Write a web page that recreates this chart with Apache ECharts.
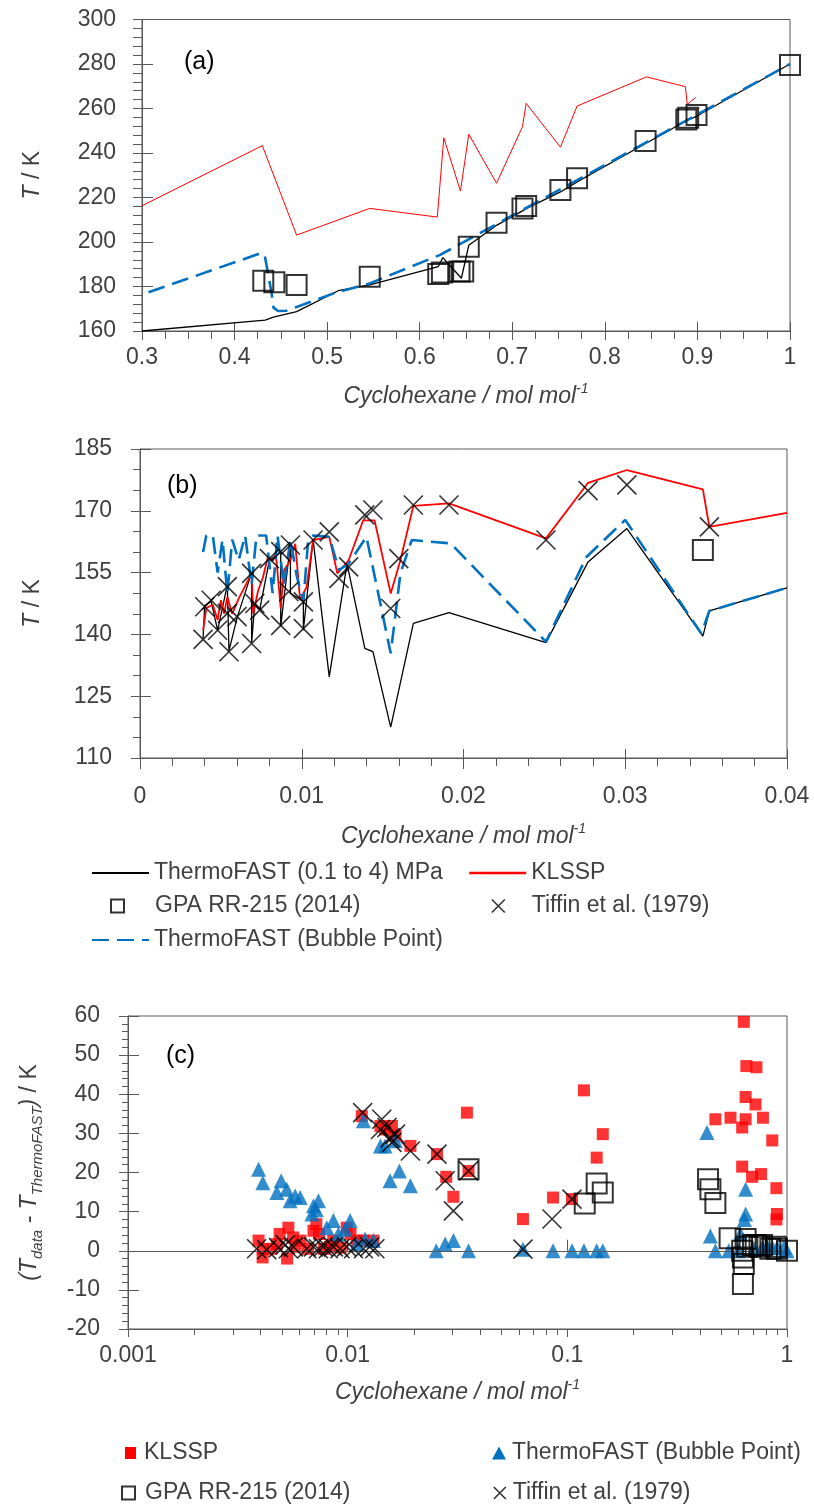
<!DOCTYPE html>
<html>
<head>
<meta charset="utf-8">
<script src="https://cdn.jsdelivr.net/npm/echarts@6/dist/echarts.min.js"></script>
<style>
  html, body { margin: 0; padding: 0; background: #fff; }
  #main { width: 814px; height: 1510px; }
</style>
</head>
<body>
<div id="main"></div>
<script>
const FONT = '"Liberation Sans", Arial, sans-serif';
const FS = 23;
const TXT = '#404040';
const AX = '#595959';
const RED = '#ff0000';
const BLUE = '#0070c0';
const CROSS = 'path://M0,0L10,10M10,0L0,10';

// ---------- panel (a) : T vs x, 0.3 - 1
const aThermo = [[0.3,160],[0.433,164.9],[0.442,166.2],[0.467,168.7],[0.512,178.1],[0.546,180.7],[0.62,188.9],
  [0.625,193],[0.645,183.7],[0.653,198.5],[0.683,207.5],[0.711,214],[0.715,215],[0.752,222.5],[0.77,227],
  [0.845,244.5],[0.888,254.5],[0.899,256.5],[1.0,280]];
const aKlssp = [[0.3,216.3],[0.430,243.3],[0.467,203.1],[0.546,215.1],[0.619,211.2],[0.626,246.8],[0.644,222.9],
  [0.653,248.4],[0.683,226.4],[0.711,251.8],[0.715,262.3],[0.752,242.6],[0.770,261.1],[0.845,274.2],
  [0.887,269.8],[0.889,261.9],[0.898,264.9]];
const aBubble = [[0.307,177.4],[0.430,195.2],[0.433,193],[0.440,177],[0.442,170.5],[0.447,169],[0.456,169.1],
  [0.507,176.9],[0.546,181.4],[0.622,194.2],[1.0,280]];
const aGpa = [[0.431,182.6],[0.443,181.9],[0.467,180.7],[0.546,184.4],[0.620,185.6],[0.624,186.3],[0.643,186.7],
  [0.647,186.7],[0.653,197.9],[0.683,208.7],[0.711,215.1],[0.715,216.2],[0.752,223.4],[0.770,228.6],
  [0.844,245.4],[0.888,255.1],[0.890,255.8],[0.899,257.1],[1.0,279.6]];

// ---------- panel (b) : T vs x, 0 - 0.04
const bThermo = [[0.0039,139],[0.0040,147],[0.0044,148],[0.0048,141],[0.0054,152],[0.0055,136],[0.0060,144],
  [0.0069,155],[0.0069,138],[0.0071,147.5],[0.0074,146],[0.0080,158],[0.0087,160],[0.0087,142],[0.0093,162],
  [0.0093,150],[0.0101,148],[0.0101,141],[0.0107,163],[0.0117,129.7],[0.0128,157.2],[0.0139,136.6],
  [0.0144,135.8],[0.0155,117.5],[0.0169,142.7],[0.0191,145.3],[0.0251,138],[0.0277,157.6],[0.0301,165.7],
  [0.0348,139.6],[0.0352,145.7],[0.04,151.3]];
const bKlssp = [[0.0039,141],[0.0041,146.4],[0.0045,147.2],[0.0048,143.5],[0.0050,148.3],[0.0052,145],
  [0.0054,149.1],[0.0057,145],[0.0061,148.7],[0.0069,154.8],[0.0070,145],[0.0073,150.6],[0.0076,153.8],
  [0.0079,158.7],[0.0082,157.9],[0.0084,159.5],[0.0087,146.3],[0.0089,155.6],[0.0093,158],[0.0096,162],
  [0.0099,148.3],[0.0103,151.5],[0.0107,162.9],[0.0117,163.7],[0.0122,154.8],[0.0129,158],[0.0138,167.7],
  [0.0145,167.7],[0.0155,149.9],[0.0161,158],[0.0169,171.2],[0.0191,171.8],[0.0251,163.3],[0.0277,176.8],
  [0.0301,179.9],[0.0348,175.2],[0.0352,166.1],[0.04,169.5]];
const bBubble = [[0.0039,160],[0.0041,164],[0.0045,164],[0.0048,155],[0.0051,163],[0.0054,150],[0.0057,163],
  [0.0061,158],[0.0065,164],[0.0069,152],[0.0072,164],[0.0078,164],[0.0082,150],[0.0085,164],[0.0089,152],
  [0.0093,163],[0.0097,154],[0.0101,148],[0.0104,163],[0.0107,164],[0.0117,163.7],[0.0123,155.6],
  [0.0129,157.2],[0.014,163.7],[0.0155,135.4],[0.0161,154.8],[0.0168,162.9],[0.0192,162.1],[0.0251,138.2],
  [0.0276,158.8],[0.03,167.8],[0.0347,140.2],[0.0352,145.7],[0.04,151.3]];
const bGpa = [[0.0348,160.5]];
const bTiffin = [[0.0039,138.8],[0.0040,146.7],[0.0044,148.3],[0.0048,141.0],[0.0054,151.6],[0.0055,135.8],
  [0.0054,145.1],[0.0060,144.3],[0.0069,154.8],[0.0069,137.8],[0.0071,147.5],[0.0074,145.9],[0.0080,158.4],
  [0.0087,160.1],[0.0087,142.2],[0.0093,161.7],[0.0092,150.4],[0.0101,147.9],[0.0101,141.4],[0.0107,162.9],
  [0.0117,164.9],[0.0123,153.6],[0.0129,156.4],[0.0139,169.0],[0.0144,170.2],[0.0155,146.3],[0.0160,158.4],
  [0.0169,171.4],[0.0191,171.4],[0.0251,162.9],[0.0277,174.9],[0.0301,176.3],[0.0352,166.1]];

// ---------- panel (c) : deviation vs x (log)
const cKlssp = [[0.00393,2.6],[0.00411,0.4],[0.0041,-1.7],[0.0045,0.5],[0.00476,1.7],[0.0049,4.3],[0.00537,5.9],
  [0.0053,-2],[0.00565,3.4],[0.0058,1],[0.0061,2.6],[0.0066,0.5],[0.00699,5.1],[0.0072,6.8],[0.0074,4.3],
  [0.0078,0.5],[0.0083,1],[0.0086,2.6],[0.0093,0.8],[0.0099,5.9],[0.0103,4.3],[0.011,2.6],[0.0118,2.6],
  [0.0131,2.6],[0.0116,34.4],[0.0141,31.9],[0.0148,31],[0.0159,31.9],[0.0165,29.4],[0.0193,26.8],
  [0.0255,24.7],[0.0281,18.9],[0.0303,13.8],[0.0349,35.3],[0.0355,20.4],[0.0628,8.1],[0.0861,13.6],
  [0.105,13.2],[0.119,41],[0.136,23.8],[0.145,29.8],[0.472,33.6],[0.553,34],[0.636,58.5],[0.653,47.2],
  [0.726,46.9],[0.648,39.3],[0.719,37.4],[0.648,33.6],[0.625,31.5],[0.777,34],[0.857,28.2],[0.625,21.5],
  [0.694,18.9],[0.762,19.6],[0.895,16],[0.9,9.4],[0.895,8]];
const cBubble = [[0.00393,20.8],[0.00411,17.4],[0.00476,14.9],[0.00498,17.9],[0.00528,15.7],[0.00547,12.8],
  [0.00577,14.0],[0.00608,13.6],[0.00687,9.4],[0.00699,11.5],[0.00736,12.8],[0.0072,10.5],[0.00803,5.9],
  [0.00861,7.7],[0.00907,4.3],[0.00975,5.5],[0.01026,7.7],[0.011,1.7],[0.012,3.0],[0.0131,2.6],[0.0118,33.2],
  [0.0141,26.8],[0.0148,26.8],[0.0165,28.1],[0.0156,17.9],[0.0172,20.4],[0.0193,16.6],[0.0253,0],
  [0.0278,1.7],[0.0303,2.6],[0.0355,0],[0.0628,0.4],[0.0861,0],[0.105,0],[0.119,0],[0.136,0],[0.145,0],
  [0.432,30.2],[0.448,3.8],[0.472,0],[0.543,0],[0.648,15.7],[0.648,9.4],[0.64,8],[0.614,4.3],[0.6,0],
  [0.706,0.5],[0.771,0.8],[0.813,0.8],[0.857,0.8],[0.902,0.8],[0.967,0.8],[1.0,0]];
const cGpa = [[0.0355,20.8],[0.120,12.1],[0.136,17.2],[0.145,14.9],[0.437,18.3],[0.448,15.7],[0.472,12.2],
  [0.548,3.2],[0.625,0],[0.63,-1.7],[0.636,-3.4],[0.63,-8.5],[0.648,3],[0.66,1],[0.70,1.5],[0.72,1.5],
  [0.75,1],[0.77,1.5],[0.84,0.5],[0.89,1],[0.9,0.5],[1.0,0]];
const cTiffin = [[0.00385,0.5],[0.00428,0.3],[0.00484,0.8],[0.0052,1.5],[0.00537,0.5],[0.00566,1],[0.00652,0.5],
  [0.00699,1],[0.00736,0.5],[0.00774,1],[0.00816,0.5],[0.0086,1],[0.00923,0.5],[0.0099,1],[0.01063,0.5],
  [0.0118,0.5],[0.0126,1],[0.0133,0.5],[0.0117,35.3],[0.0143,33.6],[0.0141,31],[0.0151,31.5],[0.0156,28.9],
  [0.0159,27.7],[0.0165,29.8],[0.0193,25.5],[0.0255,24.7],[0.0278,17.9],[0.0303,10.2],[0.0355,20.4],
  [0.0628,0.4],[0.0852,8.1],[0.105,13.2]];
const cLogMinor = [0.002,0.003,0.004,0.005,0.006,0.007,0.008,0.009,0.02,0.03,0.04,0.05,0.06,0.07,0.08,0.09,
  0.2,0.3,0.4,0.5,0.6,0.7,0.8,0.9];

const N_THERMO = 'ThermoFAST (0.1 to 4) MPa';
const N_KLSSP = 'KLSSP';
const N_GPA = 'GPA RR-215 (2014)';
const N_TIFFIN = 'Tiffin et al. (1979)';
const N_BUBBLE = 'ThermoFAST (Bubble Point)';

const chart = echarts.init(document.getElementById('main'), null, { renderer: 'canvas' });

const xName = {
  fontFamily: FONT, color: TXT,
  rich: {
    t: { fontFamily: FONT, fontSize: FS, fontStyle: 'italic', color: TXT, lineHeight: 30, verticalAlign: 'middle' },
    s: { fontFamily: FONT, fontSize: 14, fontStyle: 'italic', color: TXT, lineHeight: 18, verticalAlign: 'top' }
  }
};
const xNameText = '{t|Cyclohexane / mol mol}{s|-1}';

function axisPair(gi, scale, o) {
  const main = Object.assign({ gridIndex: gi, splitLine: { show: false } }, scale, {
    axisLine: { show: true, onZero: false, lineStyle: { color: AX, width: 1 } },
    axisTick: { show: true, inside: false, length: o.out, lineStyle: { color: AX } },
    minorTick: o.minor ? { show: true, splitNumber: o.minor, length: o.minorLen, lineStyle: { color: AX } } : { show: false },
    axisLabel: { show: true, color: TXT, fontFamily: FONT, fontSize: FS, margin: o.margin },
    name: o.name, nameLocation: 'middle', nameGap: o.nameGap, nameTextStyle: o.nameStyle
  });
  const twin = Object.assign({ gridIndex: gi, splitLine: { show: false } }, scale, {
    axisLine: { show: false }, axisLabel: { show: false }, minorTick: { show: false },
    axisTick: { show: true, inside: true, length: o.inLen, lineStyle: { color: AX } }
  });
  return [main, twin];
}

const xAxes = [].concat(
  axisPair(0, { type: 'value', min: 0.3, max: 1, interval: 0.1, position: 'bottom' },
    { out: 9, inLen: 9, minor: 4, minorLen: 8, margin: 15, name: xNameText, nameGap: 51, nameStyle: xName }),
  axisPair(1, { type: 'value', min: 0, max: 0.04, interval: 0.01, position: 'bottom' },
    { out: 11, inLen: 9, minor: 5, minorLen: 8, margin: 27, name: xNameText, nameGap: 64, nameStyle: xName }),
  axisPair(2, { type: 'log', logBase: 10, min: 0.001, max: 1, position: 'bottom' },
    { out: 8, inLen: 11, minor: 0, margin: 15, name: xNameText, nameGap: 49, nameStyle: xName })
);

const tName = {
  fontFamily: FONT, color: TXT,
  rich: {
    i: { fontFamily: FONT, fontSize: FS, fontStyle: 'italic', color: TXT, lineHeight: 30 },
    r: { fontFamily: FONT, fontSize: FS, color: TXT, lineHeight: 30 }
  }
};
const cName = {
  fontFamily: FONT, color: TXT,
  rich: {
    i: { fontFamily: FONT, fontSize: FS, fontStyle: 'italic', color: TXT, lineHeight: 30, verticalAlign: 'middle' },
    r: { fontFamily: FONT, fontSize: FS, color: TXT, lineHeight: 30, verticalAlign: 'middle' },
    s: { fontFamily: FONT, fontSize: 15, fontStyle: 'italic', color: TXT, lineHeight: 15, verticalAlign: 'bottom' }
  }
};

const yAxes = [].concat(
  axisPair(0, { type: 'value', min: 160, max: 300, interval: 20, position: 'left' },
    { out: 9, inLen: 11, minor: 5, minorLen: 9, margin: 26, name: '{i|T}{r| / K}', nameGap: 94, nameStyle: tName }),
  axisPair(1, { type: 'value', min: 110, max: 185, interval: 15, position: 'left' },
    { out: 9, inLen: 11, minor: 3, minorLen: 7, margin: 28, name: '{i|T}{r| / K}', nameGap: 92, nameStyle: tName }),
  axisPair(2, { type: 'value', min: -20, max: 60, interval: 10, position: 'left' },
    { out: 9, inLen: 11, minor: 5, minorLen: 6, margin: 28,
      name: '{i|(T}{s|data}{i| - T}{s|ThermoFAST}{i|)}{r| / K}', nameGap: 83, nameStyle: cName })
);

function lineSeries(name, gi, data, color, width, dash) {
  return {
    name: name, type: 'line', xAxisIndex: gi * 2, yAxisIndex: gi * 2, data: data,
    symbol: 'none', color: color, animation: false,
    lineStyle: { color: color, width: width, type: dash || 'solid' }
  };
}
function scatter(name, gi, data, symbol, size, style, z) {
  return {
    name: name, type: 'scatter', xAxisIndex: gi * 2, yAxisIndex: gi * 2, data: data,
    symbol: symbol, symbolSize: size, itemStyle: style, z: z || 3, animation: false
  };
}
const hollowSq = { color: 'rgba(0,0,0,0)', borderColor: '#000', borderWidth: 2 };
const crossSty = { color: 'rgba(0,0,0,0)', borderColor: '#000', borderWidth: 1.6 };

const series = [
  lineSeries(N_THERMO, 0, aThermo, '#000', 1.3),
  lineSeries(N_KLSSP, 0, aKlssp, RED, 1),
  scatter(N_GPA, 0, aGpa, 'rect', 20, hollowSq, 4),
  lineSeries(N_BUBBLE, 0, aBubble, BLUE, 2.6, [17, 8]),

  lineSeries(N_THERMO, 1, bThermo, '#000', 1.3),
  lineSeries(N_KLSSP, 1, bKlssp, RED, 1.8),
  scatter(N_GPA, 1, bGpa, 'rect', 20, hollowSq, 4),
  scatter(N_TIFFIN, 1, bTiffin, CROSS, 19, crossSty, 5),
  lineSeries(N_BUBBLE, 1, bBubble, BLUE, 2.6, [17, 8]),

  Object.assign(scatter(N_KLSSP, 2, cKlssp, 'rect', 12, { color: RED }, 3), {
    markLine: {
      silent: true, symbol: 'none', label: { show: false },
      lineStyle: { color: AX, width: 1, type: 'solid' },
      data: [{ yAxis: 0 }], animation: false
    }
  }),
  scatter(N_BUBBLE, 2, cBubble, 'triangle', 15, { color: BLUE }, 4),
  scatter(N_GPA, 2, cGpa, 'rect', 20, hollowSq, 5),
  scatter(N_TIFFIN, 2, cTiffin, CROSS, 19, crossSty, 6),
  {
    type: 'custom', xAxisIndex: 4, yAxisIndex: 4, clip: false, silent: true, animation: false,
    data: cLogMinor.map(v => [v, -20]),
    renderItem: function (params, api) {
      const p = api.coord([api.value(0), api.value(1)]);
      const x = Math.round(p[0]) + 0.5;
      return { type: 'line', shape: { x1: x, y1: p[1], x2: x, y2: p[1] + 6 }, style: { stroke: AX, lineWidth: 1 } };
    }
  }
];

function leg(item, left, cy, w, h, pad) {
  return {
    data: [item], left: left, top: cy - 15, itemWidth: w, itemHeight: h, padding: 0, itemGap: 0,
    selectedMode: false,
    textStyle: { fontFamily: FONT, fontSize: FS, color: TXT, lineHeight: 30, padding: [0, 0, 0, pad || 0] }
  };
}
const noSym = { opacity: 0 };

const option = {
  backgroundColor: '#fff',
  animation: false,
  textStyle: { fontFamily: FONT },
  grid: [
    { left: 142, right: 24, top: 19.5, height: 311.5, show: true, borderColor: AX, borderWidth: 1 },
    { left: 140, right: 27, top: 449, height: 309, show: true, borderColor: AX, borderWidth: 1 },
    { left: 128, right: 27, top: 1016, height: 313, show: true, borderColor: AX, borderWidth: 1 }
  ],
  xAxis: xAxes,
  yAxis: yAxes,
  legend: [
    leg({ name: N_THERMO, itemStyle: noSym }, 91, 873, 57, 14),
    leg({ name: N_KLSSP, itemStyle: noSym, lineStyle: { width: 2.5 } }, 468, 873, 57, 14),
    leg({ name: N_GPA, itemStyle: { borderWidth: 2 } }, 110, 906, 13, 13, 26),
    leg({ name: N_TIFFIN, itemStyle: { borderWidth: 1.6 } }, 491, 906, 13, 13, 22),
    leg({ name: N_BUBBLE, itemStyle: noSym }, 91, 940, 57, 14),
    leg({ name: N_KLSSP, icon: 'rect', itemStyle: { color: RED, borderWidth: 0, opacity: 1 } }, 125, 1453, 11, 12, 3),
    leg({ name: N_BUBBLE, icon: 'triangle', itemStyle: { color: BLUE, borderWidth: 0, opacity: 1 } }, 492, 1453, 14, 13, 1),
    leg({ name: N_GPA, itemStyle: { borderWidth: 2 } }, 121, 1493, 13, 13, 5),
    leg({ name: N_TIFFIN, itemStyle: { borderWidth: 1.6 } }, 493, 1493, 12, 12, 2)
  ],
  graphic: [
    { type: 'text', left: 184, top: 50, style: { text: '(a)', font: '25px ' + FONT, fill: '#000' } },
    { type: 'text', left: 167, top: 474, style: { text: '(b)', font: '25px ' + FONT, fill: '#000' } },
    { type: 'text', left: 166, top: 1044, style: { text: '(c)', font: '25px ' + FONT, fill: '#000' } }
  ],
  series: series
};

chart.setOption(option);
</script>
</body>
</html>
